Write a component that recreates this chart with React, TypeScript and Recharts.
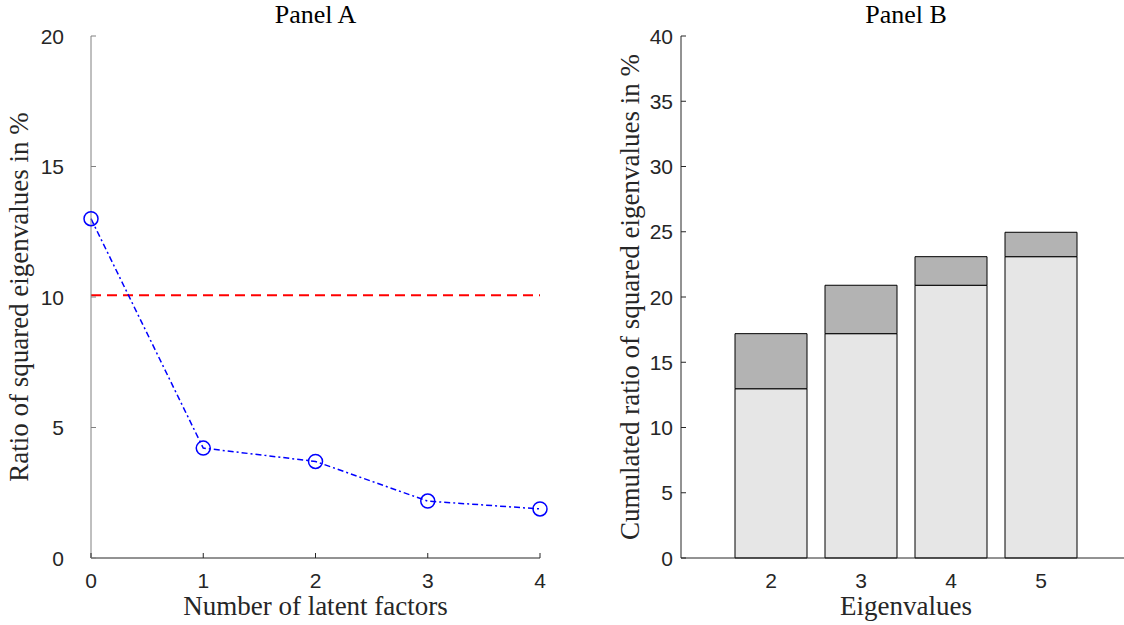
import { Bar, BarChart, Label, Line, LineChart, ReferenceLine, XAxis, YAxis } from "recharts"

// Panel A
const factorCounts = [0, 1, 2, 3, 4]
const eigenRatios = [13.0, 4.21, 3.7, 2.18, 1.88]
const thresholdValue = 10.07
const panelAYTicks = [0, 5, 10, 15, 20]

// Panel B
const eigenvalueIdx = [2, 3, 4, 5]
const cumulatedBase = [12.97, 17.19, 20.9, 23.09]
const addedRatio = [4.22, 3.71, 2.19, 1.87]
const panelBYTicks = [0, 5, 10, 15, 20, 25, 30, 35, 40]

const lineData = factorCounts.map((x, i) => ({ x, ratio: eigenRatios[i] }))
const barData = eigenvalueIdx.map((x, i) => ({ x, base: cumulatedBase[i], added: addedRatio[i] }))

const sans = "'Liberation Sans', Arial, sans-serif"
const serif = "'Liberation Serif', 'Times New Roman', serif"
const axisDark = "#262626"

const YTick = ({ x, y, payload, gap, color }: any) => (
  <g>
    <line x1={x} x2={x + 5} y1={y} y2={y} stroke={color} />
    <text x={x - gap} y={y} dy={7.5} textAnchor="end" fontSize={21} fill={axisDark} fontFamily={sans}>
      {payload.value}
    </text>
  </g>
)

const XTick = ({ x, y, payload, showLine }: any) => (
  <g>
    {showLine && <line x1={x} x2={x} y1={y} y2={y - 5} stroke={axisDark} />}
    <text x={x} y={y} dy={30} textAnchor="middle" fontSize={21} fill={axisDark} fontFamily={sans}>
      {payload.value}
    </text>
  </g>
)

const xLabel = (text: string) => ({ viewBox }: any) => (
  <text x={viewBox.x + viewBox.width / 2} y={viewBox.y + 57} textAnchor="middle" fontSize={27} fill={axisDark} fontFamily={serif}>
    {text}
  </text>
)

const yLabel = (text: string, cx: number) => ({ viewBox }: any) => {
  const cy = viewBox.y + viewBox.height / 2
  return (
    <text x={cx} y={cy} transform={`rotate(-90, ${cx}, ${cy})`} textAnchor="middle" dominantBaseline="central" fontSize={27} fill={axisDark} fontFamily={serif}>
      {text}
    </text>
  )
}

export default function App() {
  return (
    <div style={{ position: "absolute", left: 0, top: 0, width: 1124, height: 625, overflow: "hidden", background: "#fff" }}>
      <div style={{ position: "absolute", left: 0, top: 0 }}>
        <LineChart width={600} height={625} data={lineData} margin={{ top: 36, right: 60, bottom: 0, left: 31 }}>
          <XAxis
            dataKey="x"
            type="number"
            domain={[0, 4]}
            ticks={factorCounts}
            height={67}
            tickSize={0}
            tickMargin={0}
            stroke={axisDark}
            tick={(p: any) => <XTick {...p} showLine />}
          >
            <Label content={xLabel("Number of latent factors")} />
          </XAxis>
          <YAxis
            type="number"
            domain={[0, 20]}
            ticks={panelAYTicks}
            width={60}
            tickSize={0}
            tickMargin={0}
            stroke="#808080"
            tick={(p: any) => <YTick {...p} gap={27} color="#808080" />}
          >
            <Label content={yLabel("Ratio of squared eigenvalues in %", 19)} />
          </YAxis>
          <ReferenceLine y={thresholdValue} stroke="#ff0000" strokeWidth={2} strokeDasharray="10 6" />
          <Line
            dataKey="ratio"
            stroke="#0000ff"
            strokeWidth={1.5}
            strokeDasharray="6 3 2 3"
            dot={{ r: 7, fill: "none", stroke: "#0000ff", strokeWidth: 1.5, strokeDasharray: "" }}
            isAnimationActive={false}
          />
        </LineChart>
      </div>
      <div style={{ position: "absolute", left: 600, top: 0 }}>
        <BarChart width={600} height={625} data={barData} margin={{ top: 36, right: 69, bottom: 0, left: 21 }}>
          <XAxis
            dataKey="x"
            type="number"
            domain={[1, 6]}
            ticks={eigenvalueIdx}
            height={67}
            tickSize={0}
            tickMargin={0}
            stroke={axisDark}
            tick={(p: any) => <XTick {...p} />}
          >
            <Label content={xLabel("Eigenvalues")} />
          </XAxis>
          <YAxis
            type="number"
            domain={[0, 40]}
            ticks={panelBYTicks}
            width={60}
            tickSize={0}
            tickMargin={0}
            stroke={axisDark}
            tick={(p: any) => <YTick {...p} gap={8} color={axisDark} />}
          >
            <Label content={yLabel("Cumulated ratio of squared eigenvalues in %", 30)} />
          </YAxis>
          <Bar dataKey="base" stackId="s" fill="#e6e6e6" stroke="#000" strokeWidth={1} barSize={72} isAnimationActive={false} />
          <Bar dataKey="added" stackId="s" fill="#b3b3b3" stroke="#000" strokeWidth={1} barSize={72} isAnimationActive={false} />
        </BarChart>
      </div>
      <svg width={1124} height={40} style={{ position: "absolute", left: 0, top: 0, pointerEvents: "none" }}>
        <text x={315.5} y={23} textAnchor="middle" fontSize={26} fill="#000" fontFamily={serif}>Panel A</text>
        <text x={906} y={23} textAnchor="middle" fontSize={26} fill="#000" fontFamily={serif}>Panel B</text>
      </svg>
    </div>
  )
}
